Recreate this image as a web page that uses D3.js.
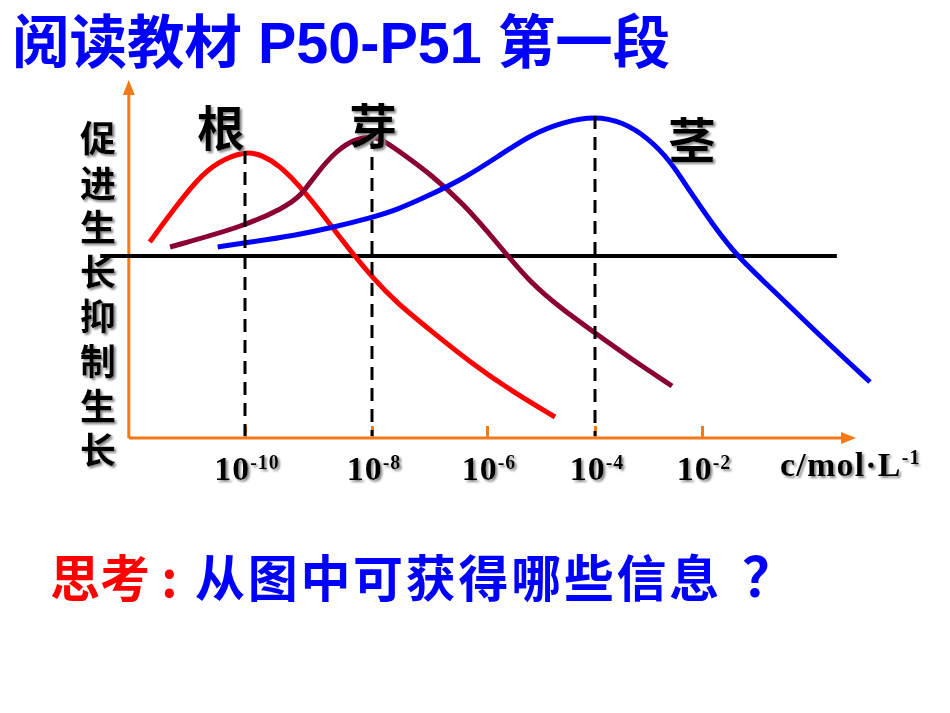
<!DOCTYPE html>
<meta charset="utf-8">
<style>
	body { margin: 0; background: #fff; }
	svg { display: block; }
	.cjk { font-family: "Liberation Sans", "Noto Sans CJK SC", sans-serif; font-weight: bold; }
	.zh { font-family: "Noto Sans CJK SC", sans-serif; font-weight: bold; }
	.num { font-family: "Liberation Serif", "DejaVu Serif", serif; font-weight: bold; }
</style>
<svg width="950" height="713"></svg>
<script src="https://cdn.jsdelivr.net/npm/d3@7/dist/d3.min.js"></script>
<script>
	// 文字
	var title = '阅读教材 P50-P51 第一段'
	var yLabel = '促进生长抑制生长'
	var question1 = '思考 :'
	var question2 = '从图中可获得哪些信息？'
	var unitText = 'c/mol·L'
	var unitExp = '-1'

	// 横坐标刻度: 浓度 10 的指数
	var tickExps = [-10, -8, -6, -4, -2]

	// 三条曲线 (x = 浓度的指数, v = 作用, 0 为既不促进也不抑制)
	var organs = ['根', '芽', '茎']
	var colors = ['#ff0000', '#8b0034', '#0000ff']

	var rootX = [-11.50, -11.13, -10.76, -10.44, -10, -9.73, -9.45, -9.17, -8.88, -8.58, -8.35, -8, -7.57, -6.99, -6.30, -5.52, -4.74]
	var rootV = [14, 46, 76, 94, 105, 101, 90, 72, 50, 25, 6, -21, -47, -74, -106, -136, -161]

	var budX = [-11.18, -10, -9.40, -9.13, -8.87, -8.55, -8.27, -8, -7.81, -7.39, -6.99, -6.42, -5.81, -5.20, -4.59, -4, -3.35, -2.56]
	var budV = [9, 30, 48, 59, 83, 106, 117, 120, 116, 99, 82, 53, 13, -27, -54, -77, -102, -130]

	var stemX = [-10.43, -10, -9.18, -8.66, -8.03, -7.57, -6.99, -6.42, -5.81, -5.20, -4.59, -4, -3.48, -3.03, -2.60, -2.22, -1.79, -1.35, -0.73, 0.15, 1.14]
	var stemV = [9, 13, 21, 28, 38, 46, 61, 77, 99, 121, 134, 140, 134, 119, 96, 64, 31, 0, -31, -77, -126]

	var seriesX = [rootX, budX, stemX],
		seriesV = [rootV, budV, stemV]

	var svg = d3.select('svg')
	var orange = '#f27a1a'

	// 阴影
	svg.append('defs').append('filter')
		.attr('id', 'sh')
		.attr('x', '-20%').attr('y', '-20%').attr('width', '150%').attr('height', '150%')
		.append('feDropShadow')
		.attr('dx', 2).attr('dy', 2)
		.attr('stdDeviation', 0.8)
		.attr('flood-color', '#888')

	// 比例尺 (刻度间距不均匀, 用分段线性)
	var x = d3.scaleLinear().domain(tickExps).range([245, 372, 487, 595, 702])
	var xAxisEnd = [-11.83, 0.88],
		refEnd = [-12.28, 0.52]
	var y = d3.scaleLinear().domain([-182, 176]).range([438, 80])

	// 标题
	svg.append('text')
		.attr('class', 'cjk')
		.attr('x', 12).attr('y', 63)
		.attr('font-size', 57.5)
		.attr('fill', '#0000ff')
		.text(title)

	// 坐标轴
	var g = svg.append('g')
	g.append('line')
		.attr('x1', x(xAxisEnd[0])).attr('x2', x(xAxisEnd[0]))
		.attr('y1', y(-182)).attr('y2', y(176) + 12)
		.attr('stroke', orange).attr('stroke-width', 3)
	g.append('path')
		.attr('d', 'M' + x(xAxisEnd[0]) + ',' + y(176) + 'l-6,15h12z')
		.attr('fill', orange)
	g.append('line')
		.attr('x1', x(xAxisEnd[0])).attr('x2', x(xAxisEnd[1]) - 12)
		.attr('y1', y(-182)).attr('y2', y(-182))
		.attr('stroke', orange).attr('stroke-width', 3)
	g.append('path')
		.attr('d', 'M' + x(xAxisEnd[1]) + ',' + y(-182) + 'l-15,-6v12z')
		.attr('fill', orange)

	var xAxis = d3.axisBottom(x).tickValues(tickExps).tickSize(-12).tickFormat('')
	var ax = g.append('g')
		.attr('transform', 'translate(0,' + y(-182) + ')')
		.call(xAxis)
	ax.select('.domain').remove()
	ax.selectAll('.tick line').attr('stroke', orange).attr('stroke-width', 3)

	// 刻度标签 10^n
	var tl = svg.append('g').attr('filter', 'url(#sh)')
	tickExps.forEach(function (t) {
		var txt = tl.append('text')
			.attr('class', 'num')
			.attr('x', x(t) + 2).attr('y', 480)
			.attr('text-anchor', 'middle')
			.attr('letter-spacing', 1)
			.attr('fill', '#000')
		txt.append('tspan').attr('font-size', 34).text('10')
		txt.append('tspan').attr('font-size', 20).attr('dy', -11).text(String(t))
	})
	var ut = tl.append('text')
		.attr('class', 'num')
		.attr('x', 780).attr('y', 476)
		.attr('letter-spacing', 1.2)
		.attr('fill', '#000')
	ut.append('tspan').attr('font-size', 34).text(unitText)
	ut.append('tspan').attr('font-size', 20).attr('dy', -12).text(unitExp)

	// 纵轴文字
	var yl = svg.append('g').attr('filter', 'url(#sh)')
	yl.selectAll('text')
		.data(yLabel.split(''))
		.enter()
		.append('text')
		.attr('class', 'cjk')
		.attr('x', 98)
		.attr('y', function (d, i) { return 139 + i * 44.6 })
		.attr('dy', '0.36em')
		.attr('text-anchor', 'middle')
		.attr('font-size', 36)
		.attr('fill', '#000')
		.text(function (d) { return d })

	// 零线
	svg.append('line')
		.attr('x1', x(refEnd[0])).attr('x2', x(refEnd[1]))
		.attr('y1', y(0)).attr('y2', y(0))
		.attr('stroke', '#000').attr('stroke-width', 4)

	// 曲线
	var line = d3.line()
		.x(function (d) { return x(d[0]) })
		.y(function (d) { return y(d[1]) })
		.curve(d3.curveBasis)

	organs.forEach(function (name, k) {
		var pts = d3.zip(seriesX[k], seriesV[k])
		svg.append('path')
			.attr('d', line(pts))
			.attr('fill', 'none')
			.attr('stroke', colors[k])
			.attr('stroke-width', 5)
	})

	// 最适浓度虚线
	organs.forEach(function (name, k) {
		var i = d3.maxIndex(seriesV[k])
		svg.append('line')
			.attr('x1', x(seriesX[k][i])).attr('x2', x(seriesX[k][i]))
			.attr('y1', y(seriesV[k][i])).attr('y2', y(-182) - 2)
			.attr('stroke', '#000')
			.attr('stroke-width', 3)
			.attr('stroke-dasharray', '13,8')
	})

	// 曲线名称
	var offs = [[-24, -22], [1, -9], [97, 25]]
	var nl = svg.append('g').attr('filter', 'url(#sh)')
	organs.forEach(function (name, k) {
		var i = d3.maxIndex(seriesV[k])
		nl.append('text')
			.attr('class', 'cjk')
			.attr('x', x(seriesX[k][i]) + offs[k][0])
			.attr('y', y(seriesV[k][i]) + offs[k][1])
			.attr('dy', '0.36em')
			.attr('text-anchor', 'middle')
			.attr('font-size', 48)
			.attr('fill', '#000')
			.text(name)
	})

	// 思考
	var q = svg.append('text')
		.attr('class', 'zh')
		.attr('y', 597)
		.attr('font-size', 50)
	q.append('tspan').attr('x', 50).attr('fill', '#ff0000').text(question1)
	q.append('tspan').attr('x', 195).attr('fill', '#0000ff')
		.attr('letter-spacing', 2.7)
		.text(question2.slice(0, -1))
	q.append('tspan').attr('x', 742).attr('fill', '#0000ff')
		.attr('font-size', 54)
		.text(question2.slice(-1))
</script>
